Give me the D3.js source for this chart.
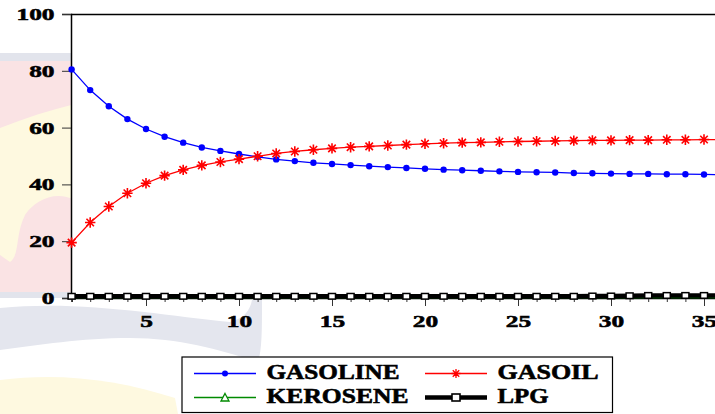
<!DOCTYPE html>
<html><head><meta charset="utf-8">
<script src="https://cdn.jsdelivr.net/npm/d3@7"></script>
<style>html,body{margin:0;padding:0;background:#fff;overflow:hidden}</style>
</head><body><svg id="c" width="715" height="414"></svg>
<script>
const periods = [1,2,3,4,5,6,7,8,9,10,11,12,13,14,15,16,17,18,19,20,21,22,23,24,25,26,27,28,29,30,31,32,33,34,35,36];
const gasoline = [80.5,73.2,67.5,63.0,59.5,56.8,54.7,53.0,51.8,50.7,49.7,48.8,48.2,47.6,47.2,46.8,46.4,46.1,45.8,45.5,45.2,45.0,44.8,44.6,44.4,44.3,44.2,44.0,43.9,43.8,43.7,43.7,43.6,43.6,43.5,43.4];
const gasoil = [19.5,26.6,32.2,36.9,40.4,43.1,45.1,46.7,47.9,48.9,49.9,50.9,51.6,52.2,52.7,53.1,53.4,53.7,54.0,54.3,54.5,54.7,54.8,55.0,55.1,55.2,55.3,55.4,55.5,55.5,55.6,55.6,55.7,55.7,55.8,55.8];
const kerosene = [0.1,0.1,0.1,0.1,0.1,0.1,0.1,0.1,0.1,0.1,0.1,0.1,0.1,0.1,0.1,0.1,0.1,0.1,0.1,0.1,0.1,0.1,0.1,0.1,0.1,0.1,0.1,0.1,0.1,0.1,0.1,0.1,0.1,0.1,0.1,0.1];
const lpg = [0.6,0.6,0.6,0.6,0.6,0.6,0.6,0.6,0.6,0.6,0.6,0.6,0.6,0.6,0.6,0.6,0.6,0.6,0.6,0.6,0.6,0.6,0.6,0.6,0.6,0.6,0.6,0.6,0.7,0.7,0.8,0.9,0.9,0.9,0.9,0.9];
const yTicks = [0,20,40,60,80,100];
const xTickLabels = [5,10,15,20,25,30,35];
const seriesNames = ["GASOLINE","GASOIL","KEROSENE","LPG"];

const svg = d3.select("#c");
function fontify(sel, size){ sel.style("font-family",'"Liberation Serif"').style("font-weight","bold").style("font-size",size+"px").style("fill","#000").style("stroke","#000").style("stroke-width","0.55px"); }

// faint watermark background
const wm = svg.append("g");
wm.append("rect").attr("x",0).attr("y",53).attr("width",75).attr("height",8).attr("fill","#e2e4ec");
wm.append("rect").attr("x",0).attr("y",61).attr("width",75).attr("height",231).attr("fill","#fae3e4");
wm.append("path").attr("d","M0,128 C25,118 50,110 75,104 L75,200 C55,190 35,200 25,215 C15,235 20,255 10,262 L0,255 Z").attr("fill","#fef9e0");
wm.append("rect").attr("x",0).attr("y",292).attr("width",75).attr("height",6).attr("fill","#e2e4ec");
wm.append("path").attr("d","M0,308 C80,300 160,315 230,322 C245,318 250,310 252,300 L262,300 C262,330 262,350 258,362 C220,350 180,338 130,338 C80,338 40,345 0,350 Z").attr("fill","#e4e6ee");
wm.append("path").attr("d","M0,380 C60,372 120,380 175,398 L178,414 L0,414 Z").attr("fill","#fef9e0");

const x = d3.scaleLinear().domain([1,36]).range([71.6, 722.6]);
const y = d3.scaleLinear().domain([0,100]).range([298,14]);

svg.append("rect").attr("x",71).attr("y",14).attr("width",660).attr("height",284).attr("fill","#fff");
svg.append("line").attr("x1",71).attr("x2",715).attr("y1",14.5).attr("y2",14.5).attr("stroke","#000").attr("stroke-width",1.5);

function stretch(sel, sx){ sel.each(function(){ const t=d3.select(this); const tx=+t.attr("x")||0; const ty=+t.attr("y")||0; t.attr("x",0).attr("y",0).attr("transform",`translate(${tx},${ty}) scale(${sx},1)`); }); }

// y axis
const ya = svg.append("g").attr("transform","translate(71,0)")
  .call(d3.axisLeft(y).tickValues(yTicks).tickSize(9).tickPadding(7));
ya.select(".domain").attr("stroke","#000").attr("stroke-width",1.5);
ya.selectAll(".tick line").attr("stroke","#333").attr("stroke-width",1);
ya.selectAll("text").attr("dy",null).attr("y",5.5).attr("x",-16.5).call(fontify,17.5);
stretch(ya.selectAll("text"),1.45);

// x axis
const xa = svg.append("g").attr("transform","translate(0,298)")
  .call(d3.axisBottom(x).tickValues(periods).tickSize(4).tickPadding(3).tickFormat(d => xTickLabels.includes(d) ? d : ""));
xa.select(".domain").attr("stroke","#000").attr("stroke-width",1.5);
xa.selectAll(".tick line").attr("stroke","#333").attr("stroke-width",1).attr("y2", d => xTickLabels.includes(d) ? 8 : 4);
xa.selectAll("text").attr("dy",null).attr("y",29).call(fontify,17.5);
stretch(xa.selectAll("text"),1.45);

const line = d3.line().x((d,i)=>x(periods[i])).y(d=>y(d));
const plot = svg.append("g");

function star(r){ const a=r*0.72; return `M${-r},0L${r},0M0,${-r}L0,${r}M${-a},${-a}L${a},${a}M${-a},${a}L${a},${-a}`; }

plot.append("path").datum(gasoline).attr("d",line).attr("fill","none").attr("stroke","#0000ff").attr("stroke-width",1.3);
plot.selectAll(".gd").data(gasoline).join("circle").attr("cx",(d,i)=>x(periods[i])).attr("cy",d=>y(d)).attr("r",3.2).attr("fill","#0000ff");
plot.append("path").datum(gasoil).attr("d",line).attr("fill","none").attr("stroke","#ff0000").attr("stroke-width",1.3);
plot.selectAll(".go").data(gasoil).join("path").attr("transform",(d,i)=>`translate(${x(periods[i])},${y(d)})`).attr("d",star(5.2)).attr("stroke","#ff0000").attr("stroke-width",1.6).attr("fill","none");
plot.append("path").datum(kerosene).attr("d",line).attr("fill","none").attr("stroke","#008a00").attr("stroke-width",1.3);
plot.append("path").datum(lpg).attr("d",line).attr("fill","none").attr("stroke","#000").attr("stroke-width",4.5);
plot.selectAll(".lp").data(lpg).join("rect").attr("x",(d,i)=>x(periods[i])-3.5).attr("y",d=>y(d)-2.8).attr("width",7).attr("height",5.6).attr("fill","#fff").attr("stroke","#000").attr("stroke-width",1.5);

// legend
const lg = svg.append("g");
lg.append("rect").attr("x",182).attr("y",357).attr("width",430.5).attr("height",55.5).attr("fill","#fff").attr("stroke","#000").attr("stroke-width",1.2);
const items = [
  {name:seriesNames[0], lx:194, ty:379.3, ly:373.5, color:"#0000ff", w:1.3, tl:133, mk:"dot"},
  {name:seriesNames[1], lx:425, ty:379.3, ly:373.5, color:"#ff0000", w:1.3, tl:101, mk:"star"},
  {name:seriesNames[2], lx:194, ty:403.3, ly:397.5, color:"#008a00", w:1.3, tl:142, mk:"tri"},
  {name:seriesNames[3], lx:425, ty:403.3, ly:397.5, color:"#000", w:4.5, tl:51, mk:"sq"}
];
items.forEach(it=>{
  lg.append("line").attr("x1",it.lx).attr("x2",it.lx+62).attr("y1",it.ly).attr("y2",it.ly).attr("stroke",it.color).attr("stroke-width",it.w);
  const cx = it.lx+31;
  if(it.mk==="dot") lg.append("circle").attr("cx",cx).attr("cy",it.ly).attr("r",3).attr("fill",it.color);
  if(it.mk==="star") lg.append("path").attr("transform",`translate(${cx},${it.ly})`).attr("d",star(4.5)).attr("stroke",it.color).attr("stroke-width",1.3);
  if(it.mk==="tri") lg.append("path").attr("transform",`translate(${cx},${it.ly})`).attr("d","M0,-4L4,3.5L-4,3.5Z").attr("fill","#fff").attr("stroke",it.color).attr("stroke-width",1.3);
  if(it.mk==="sq") lg.append("rect").attr("x",cx-4).attr("y",it.ly-3.5).attr("width",8).attr("height",7).attr("fill","#fff").attr("stroke","#000").attr("stroke-width",1.6);
  lg.append("text").attr("x",it.lx+72.5).attr("y",it.ty).text(it.name).call(fontify,20)
    .attr("textLength",it.tl).attr("lengthAdjust","spacingAndGlyphs");
});
</script></body></html>
